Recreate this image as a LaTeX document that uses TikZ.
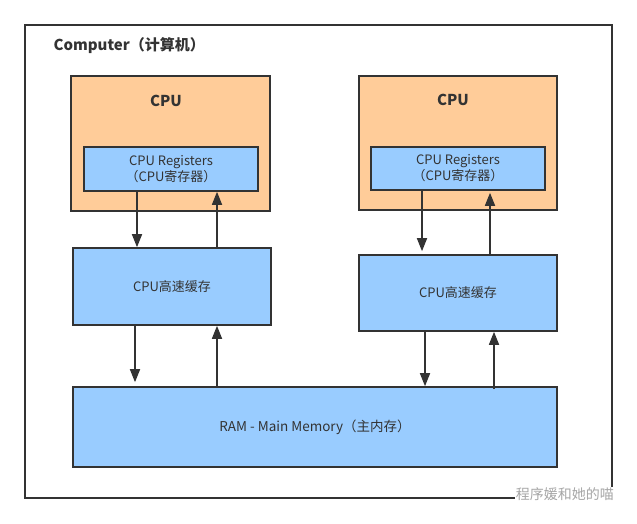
\documentclass[tikz,border=0pt]{standalone}
\usepackage{fontspec}
\setmainfont{Noto Sans CJK SC}
\usepackage{xcolor}
\usetikzlibrary{arrows.meta,positioning}

\definecolor{cpuorange}{HTML}{FFCC99}
\definecolor{memblue}{HTML}{99CCFF}
\definecolor{edgegray}{HTML}{333333}

\begin{document}
\begin{tikzpicture}[x=1pt, y=-1pt,
    box/.style={draw=edgegray, line width=1.6pt, inner sep=0pt, text=edgegray,
                font=\fontsize{13}{16}\selectfont, align=center},
    cpubox/.style={box, fill=cpuorange},
    membox/.style={box, fill=memblue},
    heading/.style={font=\bfseries\fontsize{15}{18}\selectfont, text=edgegray},
    arr/.style={draw=edgegray, line width=1.6pt, -{Triangle[length=13pt, width=10pt]}}]
    \useasboundingbox (0,0) rectangle (637,523);

    % Outer frame
    \draw[edgegray, line width=1.6pt] (25,25) rectangle (612,498);
    \node[heading, anchor=west] (title) at (50,46) {Computer（计算机）};

    % Left CPU
    \node[cpubox, minimum width=199, minimum height=135] (cpuA) at (170.5,143.5) {};
    \node[heading] (cpuAlbl) at (166,101) {CPU};
    \node[membox, minimum width=174, minimum height=44] (regA) at (171,169) {CPU Registers\\（CPU寄存器）};
    \node[membox, minimum width=198, minimum height=77] (cacheA) at (172,286.5) {CPU高速缓存};

    % Right CPU
    \node[cpubox, minimum width=198, minimum height=134] (cpuB) at (458,143) {};
    \node[heading] (cpuBlbl) at (453,100) {CPU};
    \node[membox, minimum width=174, minimum height=43] (regB) at (458,168.5) {CPU Registers\\（CPU寄存器）};
    \node[membox, minimum width=198, minimum height=76] (cacheB) at (458,293) {CPU高速缓存};

    % Main memory
    \node[membox, minimum width=484, minimum height=80, font=\fontsize{13.5}{16}\selectfont] (ram) at (315,427) {RAM - Main Memory（主内存）};

    % Registers <-> cache
    \draw[arr] (regA.south -| 137,0) -- (cacheA.north -| 137,0);
    \draw[arr] (cacheA.north -| 217,0) -- (regA.south -| 217,0);
    \draw[arr] (regB.south -| 422,0) -- ([yshift=3]cacheB.north -| 422,0);
    \draw[arr] (cacheB.north -| 490,0) -- ([yshift=-2]regB.south -| 490,0);

    % Cache <-> main memory
    \draw[arr] (cacheA.south -| 135,0) -- ([yshift=4]ram.north -| 135,0);
    \draw[arr] (ram.north -| 217,0) -- (cacheA.south -| 217,0);
    \draw[arr] (cacheB.south -| 425,0) -- (ram.north -| 425,0);
    \draw[arr] ([yshift=-3]ram.north -| 494,0) -- (cacheB.south -| 494,0);

    % Watermark
    \node[fill=white, inner sep=1pt, text=gray!70, font=\fontsize{14}{16}\selectfont, anchor=east] (mark) at (615,494) {程序媛和她的喵};
\end{tikzpicture}
\end{document}
